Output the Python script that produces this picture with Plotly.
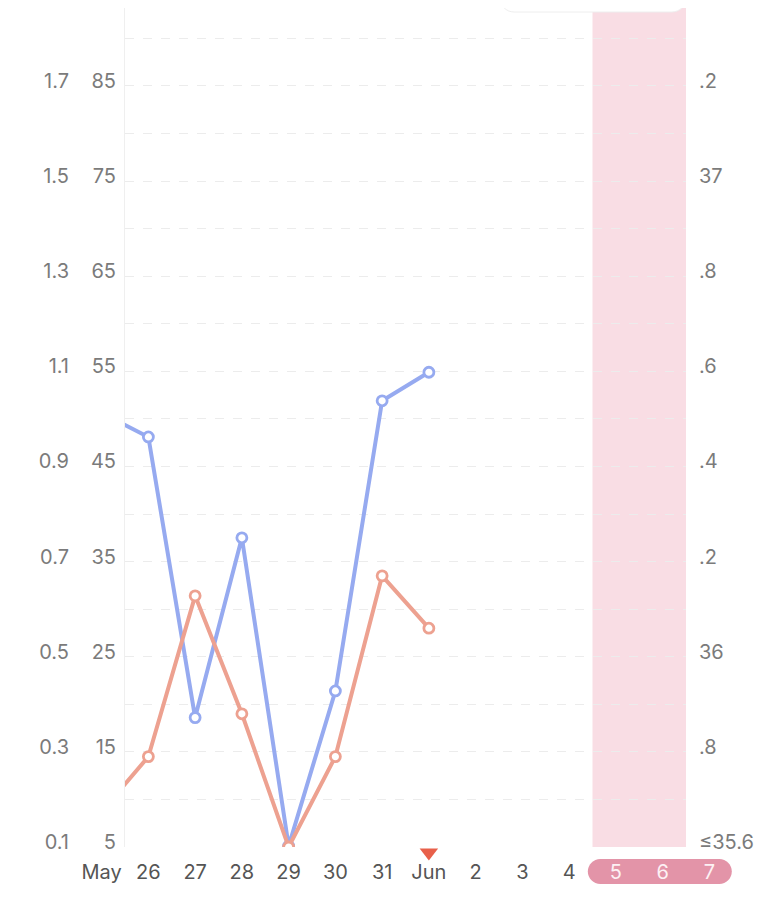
import plotly.graph_objects as go

# ---------------- data ----------------
DAYS = list(range(25, 39))            # day index: May 25 .. Jun 7 (Jun n = 31 + n)
X_LABELS = ["May", "26", "27", "28", "29", "30", "31", "Jun", "2", "3", "4", "5", "6", "7"]
HIGHLIGHT_LABELS = ["5", "6", "7"]    # days shown on the pink pill

DATA_DAYS = [25, 26, 27, 28, 29, 30, 31, 32]
BLUE_VALUES = [50.6, 48.1, 18.6, 37.5, 5.1, 21.4, 51.9, 54.9]
ORANGE_VALUES = [8.7, 14.5, 31.4, 19.0, 5.0, 14.5, 33.5, 28.0]

TODAY_DAY = [32]

PERIOD_START, PERIOD_END = 35.5, 37.5          # shaded band (Jun 5 - Jun 6)
PILL_START, PILL_END = 35.4, 38.48             # label pill (5 - 7)

Y_TICKS = [5, 15, 25, 35, 45, 55, 65, 75, 85]
Y_GRID = [5, 10, 15, 20, 25, 30, 35, 40, 45, 50, 55, 60, 65, 70, 75, 80, 85, 90]
LEFT_LABELS = ["0.1", "0.3", "0.5", "0.7", "0.9", "1.1", "1.3", "1.5", "1.7"]
MID_LABELS = ["5", "15", "25", "35", "45", "55", "65", "75", "85"]
RIGHT_LABELS = ["≤35.6", ".8", "36", ".2", ".4", ".6", ".8", "37", ".2"]

# ---------------- geometry (page pixels, shifted by the page margin) ----------------
OFF = 8
W, H = 770, 900
PLOT_L, PLOT_R, PLOT_B = 125 - OFF, 686 - OFF, 847 - OFF
X_MIN, X_MAX = 25.5, 37.5
PX_PER_DAY = (PLOT_R - PLOT_L) / (X_MAX - X_MIN)
X2_MIN = X_MIN - PLOT_L / PX_PER_DAY
X2_MAX = X_MAX + (W - PLOT_R) / PX_PER_DAY
Y_MIN = 5
PX_PER_UNIT = 9.514
Y_MAX = Y_MIN + PLOT_B / PX_PER_UNIT
STRIP_H = H - PLOT_B                 # strip under the plot, in pixels
TODAY_Y = [STRIP_H - (852.5 - 847)]  # triangle centre in strip pixels (from bottom)

BLUE = "#96aaf0"
ORANGE = "#eda190"
LABEL_GREY = "#7b7b7b"
FONT = "Inter"
FS = 20

dom_x = [PLOT_L / W, PLOT_R / W]
dom_y = [STRIP_H / H, 1]

fig = go.Figure()

fig.add_trace(go.Scatter(
    x=DATA_DAYS, y=BLUE_VALUES, mode="lines+markers",
    line=dict(color=BLUE, width=4),
    marker=dict(size=10, color="white", line=dict(color=BLUE, width=2.8)),
    hoverinfo="skip", showlegend=False))
fig.add_trace(go.Scatter(
    x=DATA_DAYS, y=ORANGE_VALUES, mode="lines+markers",
    line=dict(color=ORANGE, width=4),
    marker=dict(size=10, color="white", line=dict(color=ORANGE, width=2.8)),
    hoverinfo="skip", showlegend=False))

# helper traces so the extra axes render
fig.add_trace(go.Scatter(x=[None], y=[None], yaxis="y2", showlegend=False, hoverinfo="skip"))
fig.add_trace(go.Scatter(x=[None], y=[None], yaxis="y3", showlegend=False, hoverinfo="skip"))

# "today" marker on the label strip
fig.add_trace(go.Scatter(
    x=TODAY_DAY, y=TODAY_Y, xaxis="x2", yaxis="y4", mode="markers", cliponaxis=False,
    marker=dict(symbol="triangle-down", size=16, color="#e8604a"),
    hoverinfo="skip", showlegend=False))

tick_text = [("<span style='color:#fdf1f4'>%s</span>" % t) if t in HIGHLIGHT_LABELS and i >= len(DAYS) - 3 else t
             for i, t in enumerate(X_LABELS)]

ytick_common = dict(tickfont=dict(family=FONT, size=FS, color=LABEL_GREY),
                    ticks="", zeroline=False, automargin=False, fixedrange=True,
                    ticklabelshift=-5)

fig.update_layout(
    width=W, height=H,
    margin=dict(l=0, r=0, t=0, b=0),
    paper_bgcolor="white", plot_bgcolor="rgba(0,0,0,0)",
    font=dict(family=FONT, size=FS, color=LABEL_GREY),
    showlegend=False,
    xaxis=dict(domain=dom_x, range=[X_MIN, X_MAX], anchor="y", showgrid=False, zeroline=False,
               showticklabels=False, showline=False, fixedrange=True),
    yaxis=dict(domain=dom_y, range=[Y_MIN, Y_MAX], anchor="x",
               tickmode="array", tickvals=Y_GRID,
               ticktext=[MID_LABELS[Y_TICKS.index(v)] if v in Y_TICKS else "" for v in Y_GRID],
               showgrid=True, gridcolor="#ececec", griddash="dash", gridwidth=1,
               showline=True, linecolor="#efefef", linewidth=1,
               ticklabelstandoff=4, **ytick_common),
    yaxis2=dict(range=[Y_MIN, Y_MAX], overlaying="y", side="left", anchor="x",
                tickmode="array", tickvals=Y_TICKS, ticktext=LEFT_LABELS,
                showgrid=False, showline=False,
                ticklabelstandoff=55, **ytick_common),
    yaxis3=dict(range=[Y_MIN, Y_MAX], overlaying="y", side="right", anchor="x",
                tickmode="array", tickvals=Y_TICKS, ticktext=RIGHT_LABELS,
                showgrid=False, showline=False,
                ticklabelstandoff=12, **ytick_common),
    xaxis2=dict(domain=[0, 1], range=[X2_MIN, X2_MAX], anchor="free",
                position=1 - (883 - OFF) / H,
                showgrid=False, zeroline=False, showline=False,
                tickmode="array", tickvals=DAYS, ticktext=tick_text,
                tickfont=dict(family=FONT, size=FS, color="#555555"),
                ticks="", side="top", automargin=False, fixedrange=True),
    yaxis4=dict(domain=[0, dom_y[0]], range=[0, STRIP_H], anchor="x2", visible=False,
                fixedrange=True),
    hovermode=False,
)

# shaded period band
fig.add_shape(type="rect", xref="x", yref="paper", x0=PERIOD_START, x1=PERIOD_END,
              y0=dom_y[0], y1=1, fillcolor="#f9dde4", line=dict(width=0), layer="below")

# pill behind 5 6 7
r_x = 12.5 / PX_PER_DAY
r_y = 12.5 / H
py0 = 1 - (884 - OFF) / H
py1 = 1 - (859 - OFF) / H
a, b = PILL_START, PILL_END
k = 0.5523
pill = (f"M{a + r_x},{py0} L{b - r_x},{py0} "
        f"C{b - r_x + k * r_x},{py0} {b},{py0 + r_y - k * r_y} {b},{py0 + r_y} "
        f"C{b},{py0 + r_y + k * r_y} {b - r_x + k * r_x},{py1} {b - r_x},{py1} "
        f"L{a + r_x},{py1} "
        f"C{a + r_x - k * r_x},{py1} {a},{py0 + r_y + k * r_y} {a},{py0 + r_y} "
        f"C{a},{py0 + r_y - k * r_y} {a + r_x - k * r_x},{py0} {a + r_x},{py0} Z")
fig.add_shape(type="path", xref="x2", yref="paper", path=pill,
              fillcolor="#e394a8", line=dict(width=0), layer="below")

# white rounded box at the top (clipped tooltip)
bx0, bx1 = (500 - OFF) / W, (686 - OFF) / W
by0, by1 = 1 - (12 - OFF) / H, 1.05
rx, ry = 14 / W, 14 / H
box = (f"M{bx0},{by1} L{bx0},{by0 + ry} "
       f"C{bx0},{by0 + ry * (1 - k)} {bx0 + rx * (1 - k)},{by0} {bx0 + rx},{by0} "
       f"L{bx1 - rx},{by0} "
       f"C{bx1 - rx * (1 - k)},{by0} {bx1},{by0 + ry * (1 - k)} {bx1},{by0 + ry} "
       f"L{bx1},{by1} Z")
fig.add_shape(type="path", xref="paper", yref="paper", path=box,
              fillcolor="white", line=dict(color="#eeeeee", width=1), layer="above")

fig.write_html("out.html")
